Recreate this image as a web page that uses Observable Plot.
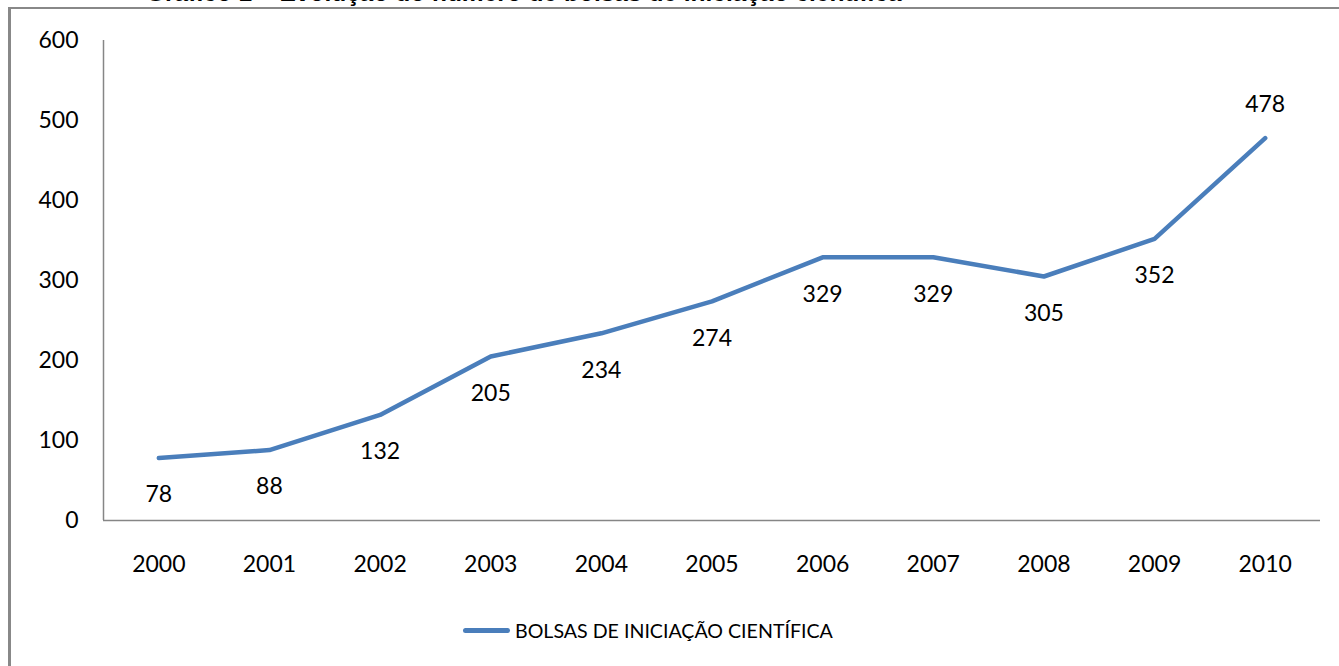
<!DOCTYPE html>
<html>
<head>
<meta charset="utf-8">
<script src="https://cdn.jsdelivr.net/npm/d3@7"></script>
<script src="https://cdn.jsdelivr.net/npm/@observablehq/plot@0.6"></script>
<style>
  html, body { margin: 0; padding: 0; background: #fff; overflow: hidden; }
  #wrap { position: relative; width: 1339px; height: 666px; }
  #chart { position: absolute; left: 0; top: 0; }
  #frame { position: absolute; left: 8px; top: 7px; width: 1331px; height: 659px;
           border-left: 3px solid #888; border-top: 2px solid #888; box-sizing: border-box; pointer-events: none; }
  #title { position: absolute; left: 146px; top: -19px; font: bold 24.5px "Liberation Sans", sans-serif;
           color: #000; white-space: nowrap; line-height: 24px; }
  #legend { position: absolute; left: 463px; top: 619px; display: flex; align-items: center;
            font: 19.6px Lato, sans-serif; color: #000; white-space: nowrap; }
  #legend .sw { width: 47px; height: 5px; border-radius: 3px; background: #4A7EBB; margin-right: 5px; }
</style>
</head>
<body>
<div id="wrap">
  <div id="title">Gráfico 1 – Evolução do número de bolsas de iniciação científica</div>
  <div id="chart"></div>
  <div id="frame"></div>
  <div id="legend"><span class="sw"></span><span id="legendText"></span></div>
</div>
<script>
const seriesName = "BOLSAS DE INICIAÇÃO CIENTÍFICA";
const years = [2000, 2001, 2002, 2003, 2004, 2005, 2006, 2007, 2008, 2009, 2010];
const bolsas = [78, 88, 132, 205, 234, 274, 329, 329, 305, 352, 478];
const yTicks = [0, 100, 200, 300, 400, 500, 600];

const data = years.map((year, i) => ({year, value: bolsas[i]}));
const lastYear = years[years.length - 1];
const below = data.filter(d => d.year !== lastYear);
const above = data.filter(d => d.year === lastYear);

const chart = Plot.plot({
  width: 1339,
  height: 600,
  marginLeft: 103,
  marginRight: 19,
  marginTop: 40,
  marginBottom: 80,
  style: {fontFamily: "Lato, sans-serif", fontSize: "23px", color: "#000", background: "transparent"},
  x: {domain: [years[0] - 0.5, lastYear + 0.5]},
  y: {domain: [0, 600]},
  marks: [
    Plot.axisY({ticks: yTicks, tickSize: 0, tickPadding: 25, label: null, fontSize: 23}),
    Plot.axisX({ticks: years, tickFormat: d => String(d), tickSize: 0, tickPadding: 35, label: null, fontSize: 23}),
    Plot.ruleY([0], {stroke: "#868686", strokeWidth: 1.5}),
    Plot.ruleX([years[0] - 0.5], {y1: 0, y2: 600, stroke: "#868686", strokeWidth: 1.5}),
    Plot.line(data, {x: "year", y: "value", stroke: "#4A7EBB", strokeWidth: 4.5, strokeLinecap: "round", strokeLinejoin: "round"}),
    Plot.text(below, {x: "year", y: "value", text: d => String(d.value), dy: 37, fontSize: 23, fill: "#000"}),
    Plot.text(above, {x: "year", y: "value", text: d => String(d.value), dy: -33, fontSize: 23, fill: "#000"})
  ]
});
document.getElementById("chart").appendChild(chart);
document.getElementById("legendText").textContent = seriesName;
</script>
</body>
</html>
